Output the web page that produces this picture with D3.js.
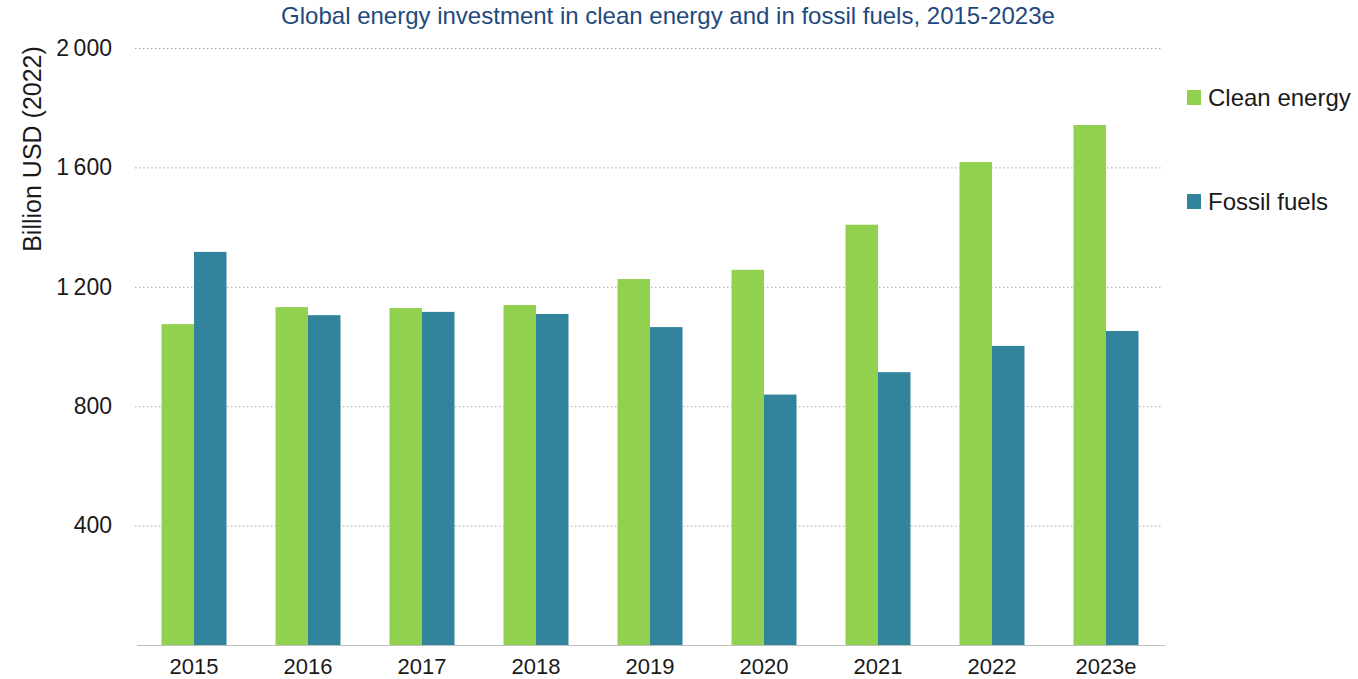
<!DOCTYPE html>
<html>
<head>
<meta charset="utf-8">
<script src="https://cdn.jsdelivr.net/npm/d3@7"></script>
<style>
  body { margin: 0; background: #fff; }
  text { font-family: "Liberation Sans", Arial, sans-serif; }
</style>
</head>
<body>
<script>
// chart data
var years = ["2015", "2016", "2017", "2018", "2019", "2020", "2021", "2022", "2023e"];
var cleanEnergy = [1075, 1132, 1129, 1139, 1226, 1257, 1408, 1618, 1742];
var fossilFuels = [1317, 1105, 1116, 1109, 1065, 839, 914, 1002, 1052];
var seriesNames = ["Clean energy", "Fossil fuels"];
var yTicks = [400, 800, 1200, 1600, 2000];

var colors = ["#92d050", "#31849b"];
var width = 1358, height = 679;
var margin = {top: 48, right: 195, bottom: 34, left: 137};
var innerW = width - margin.left - margin.right;
var innerH = height - margin.top - margin.bottom;

var svg = d3.select("body").append("svg")
    .attr("width", width)
    .attr("height", height);

var g = svg.append("g")
    .attr("transform", "translate(" + margin.left + "," + margin.top + ")");

var x = d3.scaleBand()
    .domain(years)
    .range([0, innerW])
    .paddingInner(0.43)
    .paddingOuter(0.215);

var sub = d3.scaleBand()
    .domain(seriesNames)
    .range([0, x.bandwidth()]);

var y = d3.scaleLinear()
    .domain([0, 2000])
    .range([innerH, 0]);

// gridlines
g.append("g").selectAll("line")
    .data(yTicks)
    .enter().append("line")
        .attr("x1", -2)
        .attr("x2", innerW)
        .attr("y1", (d) => y(d) + 0.5)
        .attr("y2", (d) => y(d) + 0.5)
        .attr("stroke", "#a6a6a6")
        .attr("stroke-width", 1)
        .attr("stroke-dasharray", "1.5,2.5");

// y tick labels
var leftAxis = d3.axisLeft(y)
    .tickValues(yTicks)
    .tickSize(0)
    .tickPadding(25)
    .tickFormat((d) => d3.format(",")(d).replace(",", "\u2009"));
g.append("g")
    .attr("class", "left axis")
    .call(leftAxis)
    .call((a) => a.select(".domain").remove())
    .selectAll("text")
        .attr("font-size", "23px")
        .attr("fill", "#1a1a1a")
        .style("font-family", "'Liberation Sans', Arial, sans-serif");

// bars
var rows = years.map((yr, i) => ({year: yr, values: [cleanEnergy[i], fossilFuels[i]]}));
var groups = g.selectAll(".year")
    .data(rows)
    .enter().append("g")
        .attr("class", "year")
        .attr("transform", (d) => "translate(" + x(d.year) + ",0)");

groups.selectAll("rect")
    .data((d) => d.values.map((v, j) => ({name: seriesNames[j], value: v, j: j})))
    .enter().append("rect")
        .attr("x", (d) => sub(d.name))
        .attr("width", sub.bandwidth())
        .attr("y", (d) => y(d.value))
        .attr("height", (d) => innerH - y(d.value))
        .attr("fill", (d) => colors[d.j]);

// bottom axis
var bottomAxis = d3.axisBottom(x).tickSize(0).tickPadding(13);
g.append("g")
    .attr("class", "bottom axis")
    .attr("transform", "translate(0," + innerH + ")")
    .call(bottomAxis)
    .call((a) => a.select(".domain")
        .attr("stroke", "#bfbfbf")
        .attr("d", "M0,0.5H" + (innerW + 2)))
    .selectAll("text")
        .attr("font-size", "22px")
        .attr("fill", "#1a1a1a")
        .style("font-family", "'Liberation Sans', Arial, sans-serif");

// title
svg.append("text")
    .attr("x", 668)
    .attr("y", 24)
    .attr("text-anchor", "middle")
    .attr("font-size", "24px")
    .attr("fill", "#1f497d")
    .text("Global energy investment in clean energy and in fossil fuels, 2015-2023e");

// y axis label
svg.append("text")
    .attr("transform", "translate(41,149) rotate(-90)")
    .attr("text-anchor", "middle")
    .attr("font-size", "25px")
    .attr("fill", "#1a1a1a")
    .text("Billion USD (2022)");

// legend
var legend = svg.append("g")
    .attr("transform", "translate(1187,0)");
var legendY = [97, 201];
seriesNames.forEach((name, i) => {
    legend.append("rect")
        .attr("x", 0)
        .attr("y", legendY[i] - 7)
        .attr("width", 14)
        .attr("height", 15)
        .attr("fill", colors[i]);
    legend.append("text")
        .attr("x", 21)
        .attr("y", legendY[i] + 9)
        .attr("font-size", "24px")
        .attr("fill", "#1a1a1a")
        .text(name);
});
</script>
</body>
</html>
